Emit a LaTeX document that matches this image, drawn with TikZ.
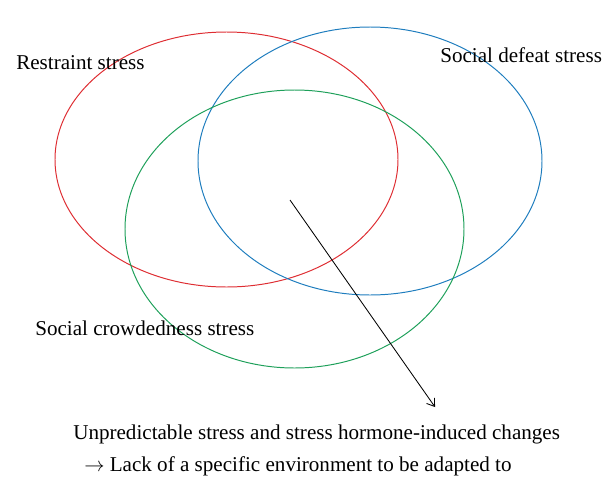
\documentclass[tikz,border=0pt]{standalone}
\usepackage{fontspec}
\setmainfont{Liberation Serif}
\usetikzlibrary{arrows.meta}
\definecolor{restraintred}{RGB}{222,45,50}
\definecolor{defeatblue}{RGB}{30,125,190}
\definecolor{crowdgreen}{RGB}{30,160,90}
\tikzset{
  stresslabel/.style={anchor=west,inner sep=0pt,font=\fontsize{15}{18}\selectfont},
  stressset/.style={line width=0.7pt}
}
\begin{document}
\begin{tikzpicture}[x=0.025cm,y=-0.025cm,>={Straight Barb[length=5pt,width=7pt]}]
\useasboundingbox (0,0) rectangle (608,481);
% the three stress sets
\draw[stressset,restraintred] (226.5,159.5) ellipse [x radius=171.5,y radius=127.5];
\draw[stressset,defeatblue] (370,161) ellipse [x radius=172,y radius=134];
\draw[stressset,crowdgreen] (294.5,229) ellipse [x radius=169.5,y radius=139];
% labels
\node[stresslabel] (restraint) at (16,63) {Restraint stress};
\node[stresslabel] (defeat) at (440,55) {Social defeat stress};
\node[stresslabel] (crowd) at (35,328) {Social crowdedness stress};
\node[stresslabel] (unpred) at (73,434) {Unpredictable stress and stress hormone-induced changes};
\node[stresslabel] (lack) at (84,466) {$\rightarrow$ Lack of a specific environment to be adapted to};
% arrow out of the overlap
\coordinate (core) at (290,200);
\coordinate (outcome) at (435,407);
\draw[->,line width=0.6pt] (core) -- (outcome);
\end{tikzpicture}
\end{document}
